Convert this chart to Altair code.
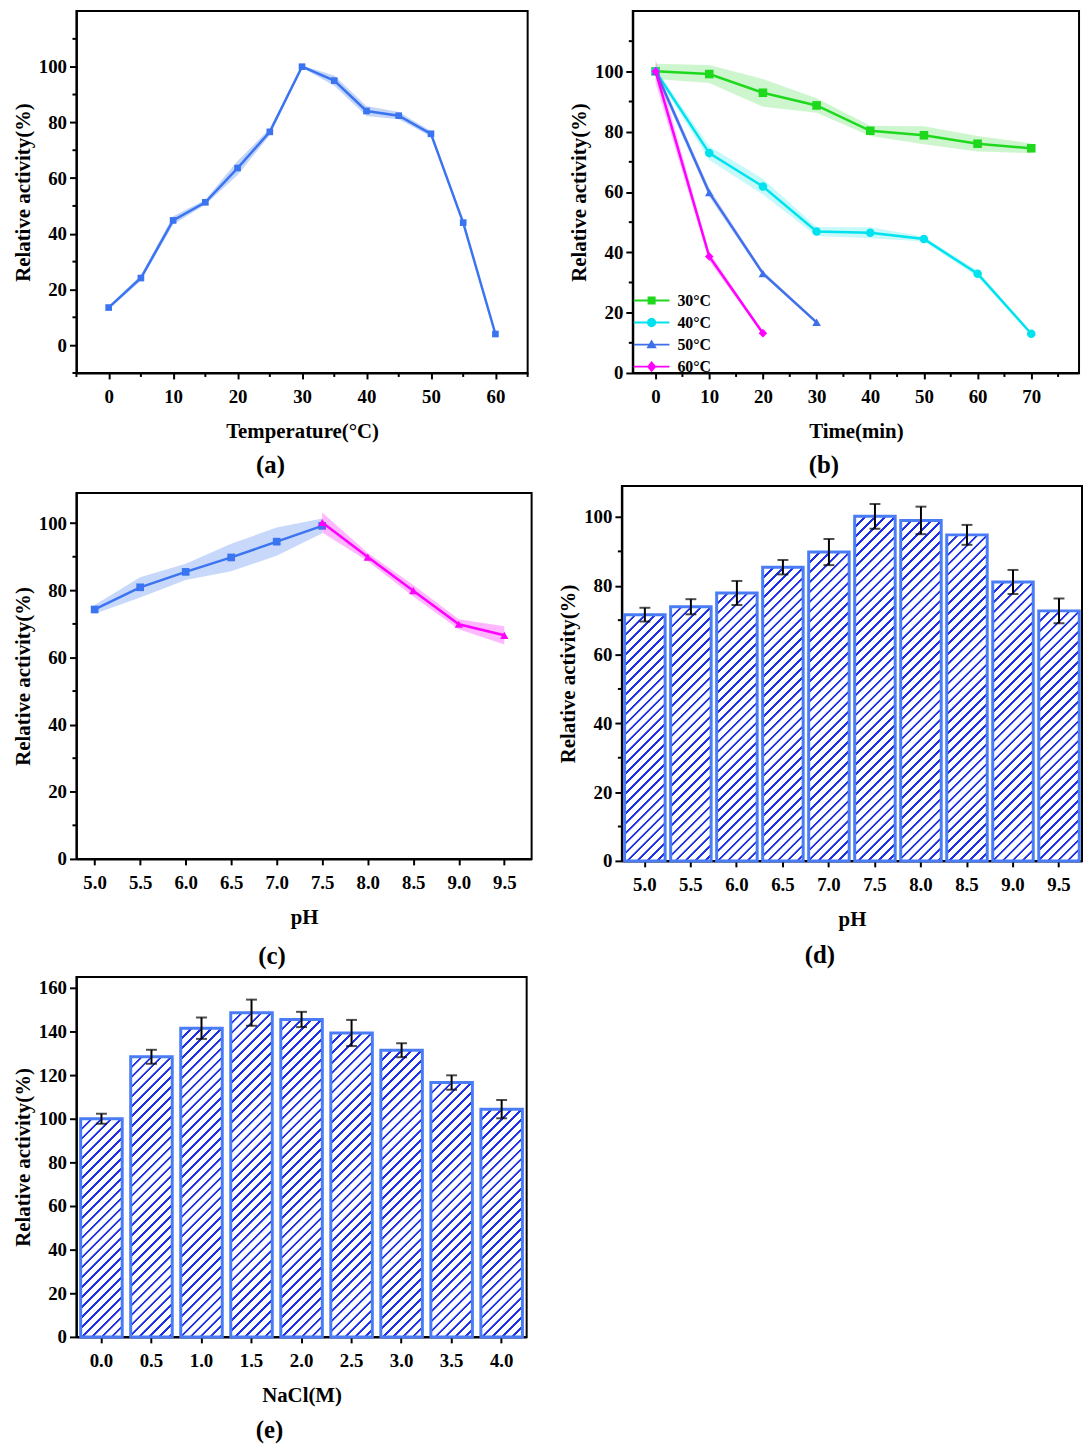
import altair as alt
import pandas as pd

SERIF = "Liberation Serif"
BLUE = "#3A74F0"
GREEN = "#1ED81E"
CYAN = "#00E3EE"
BLUE50 = "#3F6FEA"
MAGENTA = "#FF00FF"
BAR_EDGE = "#4A7CF6"
HATCH = "#1E30E6"
YTITLE = "Relative activity(%)"

# ---------------- data ----------------
# (a) temperature optimum
temp_c = [0, 5, 10, 15, 20, 25, 30, 35, 40, 45, 50, 55, 60]
temp_act = [13.5, 24.1, 44.8, 51.3, 63.6, 76.6, 100.0, 95.0, 84.1, 82.4, 75.9, 44.0, 4.0]
temp_err = [0.6, 1.0, 1.5, 0.9, 2.5, 1.2, 0.4, 1.8, 1.8, 1.3, 1.0, 0.6, 0.5]

# (b) thermal stability
time_series = ["30°C", "40°C", "50°C", "60°C"]
t30_x = [0, 10, 20, 30, 40, 50, 60, 70]
t30_y = [100.0, 99.1, 92.9, 88.7, 80.3, 78.8, 76.0, 74.5]
t30_e = [2.5, 3.0, 4.6, 2.4, 1.7, 3.0, 2.6, 1.6]
t40_x = [0, 10, 20, 30, 40, 50, 60, 70]
t40_y = [100.0, 72.9, 61.8, 46.9, 46.5, 44.4, 32.9, 13.0]
t40_e = [1.0, 2.3, 2.6, 1.5, 1.8, 0.8, 1.0, 0.5]
t50_x = [0, 10, 20, 30]
t50_y = [100.0, 59.8, 33.0, 16.8]
t50_e = [1.5, 1.5, 0.8, 0.5]
t60_x = [0, 10, 20]
t60_y = [100.0, 38.6, 13.2]
t60_e = [4.0, 1.5, 0.5]

# (c) pH optimum
ph_acid_x = [5.0, 5.5, 6.0, 6.5, 7.0, 7.5]
ph_acid_y = [74.3, 80.9, 85.5, 89.8, 94.5, 99.2]
ph_acid_e = [1.3, 3.0, 2.4, 4.1, 4.2, 2.2]
ph_alk_x = [7.5, 8.0, 8.5, 9.0, 9.5]
ph_alk_y = [100.2, 89.9, 79.9, 69.9, 66.6]
ph_alk_e = [3.0, 1.2, 1.7, 1.5, 2.7]

# (d) pH stability
phs_labels = ["5.0", "5.5", "6.0", "6.5", "7.0", "7.5", "8.0", "8.5", "9.0", "9.5"]
phs_vals = [71.6, 73.9, 77.9, 85.4, 89.8, 100.2, 99.0, 94.8, 81.1, 72.7]
phs_err = [2.0, 2.2, 3.5, 2.1, 3.8, 3.6, 4.0, 2.9, 3.5, 3.6]

# (e) NaCl
nacl_labels = ["0.0", "0.5", "1.0", "1.5", "2.0", "2.5", "3.0", "3.5", "4.0"]
nacl_vals = [100.0, 128.4, 141.5, 148.6, 145.5, 139.3, 131.4, 116.6, 104.4]
nacl_err = [2.3, 3.2, 4.9, 6.0, 3.5, 6.0, 3.2, 3.3, 4.2]


# ---------------- helpers ----------------
def band_df(xs, ys, es, series=None):
    d = pd.DataFrame({"x": xs, "v": ys, "e": es})
    d["lo"] = d["v"] - d["e"]
    d["hi"] = d["v"] + d["e"]
    if series is not None:
        d["s"] = series
    return d


def x_axis(values, title, fmt=None):
    kw = dict(title=title, tickSize=6, labelPadding=9, titlePadding=14, labelAngle=0)
    if values is not None:
        kw["values"] = values
    if fmt:
        kw["format"] = fmt
    return alt.Axis(**kw)


def y_axis(values):
    return alt.Axis(values=values, title=YTITLE, tickSize=7, labelPadding=3,
                    titlePadding=5)


def y_minor(vals, ys, yax):
    return alt.Chart(pd.DataFrame({"m": vals})).mark_rule(
        color="black", strokeWidth=2).encode(
        y=alt.Y("m:Q", scale=ys, axis=yax), x=alt.value(-4), x2=alt.value(0))


def x_minor(vals, xs, xax, h):
    return alt.Chart(pd.DataFrame({"m": vals})).mark_rule(
        color="black", strokeWidth=2).encode(
        x=alt.X("m:Q", scale=xs, axis=xax), y=alt.value(h), y2=alt.value(h + 4))


def panel_title(t, offset):
    return alt.TitleParams(t, orient="bottom", frame="bounds", anchor="middle",
                           font=SERIF, fontSize=25, fontWeight="bold",
                           color="black", offset=offset)


def line_series(df, xs, ys, xax, yax, color, shape, size, band_opacity):
    base = alt.Chart(df)
    X = alt.X("x:Q", scale=xs, axis=xax)
    return [
        base.mark_area(color=color, opacity=band_opacity).encode(
            x=X, y=alt.Y("lo:Q", scale=ys, axis=yax), y2="hi:Q"),
        base.mark_line(color=color, strokeWidth=2.5).encode(
            x=X, y=alt.Y("v:Q", scale=ys, axis=yax)),
        base.mark_point(shape=shape, filled=True, size=size, color=color,
                        opacity=1).encode(x=X, y=alt.Y("v:Q", scale=ys, axis=yax)),
    ]


def hatch_expr(bar_w, px_per_unit):
    # diagonal hatch drawn as a striped linear gradient (style only)
    n, period, frac, soft = 44, 10.0, 0.24, 0.04
    L = n * period
    stops = []
    for i in range(n):
        a = i / n
        b = (i + frac) / n
        b2 = (i + frac + soft) / n
        c = (i + 1 - soft) / n
        stops += [f"{{offset:{a:.5f},color:'{HATCH}'}}",
                  f"{{offset:{b:.5f},color:'{HATCH}'}}",
                  f"{{offset:{b2:.5f},color:'white'}}",
                  f"{{offset:{c:.5f},color:'white'}}"]
    h = f"(datum.v*{px_per_unit:.5f})"
    den = f"({bar_w:.4f}*{bar_w:.4f}+{h}*{h})"
    return ("{gradient:'linear',x1:0,y1:0,"
            f"x2:{bar_w:.4f}*{L}/{den},y2:{h}*{L}/{den},"
            "stops:[" + ",".join(stops) + "]}")


# ---------------- panel (a) ----------------
WA, HA = 455, 365
xs_a = alt.Scale(domain=[-5, 65], nice=False, zero=False)
ys_a = alt.Scale(domain=[-10, 120], nice=False, zero=False)
xax_a = x_axis(list(range(0, 61, 10)), "Temperature(°C)")
yax_a = y_axis(list(range(0, 101, 20)))
dfa = band_df(temp_c, temp_act, temp_err)
pa = alt.layer(
    *line_series(dfa, xs_a, ys_a, xax_a, yax_a, BLUE, "square", 45, 0.3),
    x_minor(list(range(-5, 66, 10)), xs_a, xax_a, HA),
    y_minor([-10, 10, 30, 50, 70, 90, 110], ys_a, yax_a),
).properties(width=WA, height=HA, title=panel_title("(a)", 12))

# ---------------- panel (b) ----------------
WB, HB = 450, 365
xs_b = alt.Scale(domain=[-4.25, 78.9], nice=False, zero=False)
ys_b = alt.Scale(domain=[0, 120], nice=False, zero=False)
xax_b = x_axis(list(range(0, 71, 10)), "Time(min)")
yax_b = y_axis(list(range(0, 101, 20)))
colors_b = [GREEN, CYAN, BLUE50, MAGENTA]
shapes_b = ["square", "circle", "triangle-up", "diamond"]
dfs_b = [
    band_df(t30_x, t30_y, t30_e, time_series[0]),
    band_df(t40_x, t40_y, t40_e, time_series[1]),
    band_df(t50_x, t50_y, t50_e, time_series[2]),
    band_df(t60_x, t60_y, t60_e, time_series[3]),
]
layers_b = []
for dfi, col, shp in zip(dfs_b, colors_b, shapes_b):
    layers_b += line_series(dfi, xs_b, ys_b, xax_b, yax_b, col, shp, 75, 0.22)

LINE = "M-2,-0.11H2V0.11H-2Z"
leg_paths = [
    LINE + "M-0.45,-0.45H0.45V0.45H-0.45Z",
    LINE + "M0.52,0A0.52,0.52 0 1,1 -0.52,0A0.52,0.52 0 1,1 0.52,0Z",
    LINE + "M0,-0.58L0.58,0.42L-0.58,0.42Z",
    LINE + "M0,-0.62L0.52,0L0,0.62L-0.52,0Z",
]
leg_kw = dict(orient="none", legendX=571, legendY=283, title=None, padding=0,
              symbolSize=324, symbolStrokeWidth=0, labelOffset=17, rowPadding=5.2,
              labelFont=SERIF, labelFontSize=16, labelFontWeight="bold",
              labelColor="black", symbolOpacity=1)
df_leg = pd.concat(dfs_b, ignore_index=True)
layers_b.append(
    alt.Chart(df_leg).mark_point(filled=True, size=0).encode(
        x=alt.X("x:Q", scale=xs_b, axis=xax_b),
        y=alt.Y("v:Q", scale=ys_b, axis=yax_b),
        color=alt.Color("s:N", scale=alt.Scale(domain=time_series, range=colors_b),
                        legend=alt.Legend(**leg_kw)),
        shape=alt.Shape("s:N", scale=alt.Scale(domain=time_series, range=leg_paths),
                        legend=alt.Legend(**leg_kw))))
layers_b.append(x_minor(list(range(5, 76, 10)), xs_b, xax_b, HB))
layers_b.append(y_minor(list(range(10, 111, 20)), ys_b, yax_b))
pb = alt.layer(*layers_b).properties(width=WB, height=HB, title=panel_title("(b)", 12))

# ---------------- panel (c) ----------------
WC, HC = 459, 369
xs_c = alt.Scale(domain=[4.8, 9.8], nice=False, zero=False)
ys_c = alt.Scale(domain=[0, 109], nice=False, zero=False)
xax_c = x_axis([5.0, 5.5, 6.0, 6.5, 7.0, 7.5, 8.0, 8.5, 9.0, 9.5], "pH", ".1f")
yax_c = y_axis(list(range(0, 101, 20)))
pc = alt.layer(
    *line_series(band_df(ph_acid_x, ph_acid_y, ph_acid_e), xs_c, ys_c, xax_c, yax_c,
                 BLUE, "square", 60, 0.28),
    *line_series(band_df(ph_alk_x, ph_alk_y, ph_alk_e), xs_c, ys_c, xax_c, yax_c,
                 MAGENTA, "triangle-up", 70, 0.28),
    y_minor([10, 30, 50, 70, 90], ys_c, yax_c),
).properties(width=WC, height=HC, title=panel_title("(c)", 17))

spacer = alt.Chart(pd.DataFrame({"z": [0]})).mark_point(opacity=0).properties(
    width=10, height=5, view=alt.ViewBackground(stroke="transparent"))


# ---------------- bar panels ----------------
def bar_panel(labels, vals, errs, w, h, ymax, yvals, minor, pad, xtitle, letter, toff):
    d = pd.DataFrame({"c": labels, "v": vals, "e": errs})
    d["lo"] = d["v"] - d["e"]
    d["hi"] = d["v"] + d["e"]
    n = len(labels)
    step = w / n
    bw = step * (1 - pad)
    ys = alt.Scale(domain=[0, ymax], nice=False, zero=False)
    yax = y_axis(yvals)
    xsc = alt.Scale(paddingInner=pad, paddingOuter=pad / 2)
    xax = x_axis(None, xtitle)
    base = alt.Chart(d)
    X = alt.X("c:N", sort=labels, scale=xsc, axis=xax)
    layers = [
        base.mark_bar(fill={"expr": hatch_expr(bw, h / ymax)}, stroke=BAR_EDGE,
                      strokeWidth=3).encode(x=X, y=alt.Y("v:Q", scale=ys, axis=yax)),
        base.mark_rule(color="black", strokeWidth=2).encode(
            x=X, y=alt.Y("lo:Q", scale=ys, axis=yax), y2="hi:Q"),
        base.mark_tick(color="black", thickness=2, size=11).encode(
            x=X, y=alt.Y("lo:Q", scale=ys, axis=yax)),
        base.mark_tick(color="black", thickness=2, size=11).encode(
            x=X, y=alt.Y("hi:Q", scale=ys, axis=yax)),
    ]
    if minor:
        layers.append(y_minor(minor, ys, yax))
    return alt.layer(*layers).properties(width=w, height=h,
                                         title=panel_title(letter, toff))


pd_ = bar_panel(phs_labels, phs_vals, phs_err, 464, 378, 109,
                list(range(0, 101, 20)), [10, 30, 50, 70, 90], 0.12, "pH", "(d)", 14)
pe = bar_panel(nacl_labels, nacl_vals, nacl_err, 454, 363, 165,
               list(range(0, 161, 20)), None, 0.17, "NaCl(M)", "(e)", 13)

row1 = alt.hconcat(pa, pb, spacing=38)
row2 = alt.hconcat(alt.vconcat(spacer, pc, spacing=0), pd_, spacing=24)

chart = alt.vconcat(row1, row2, pe, spacing=6).properties(
    padding={"left": 3, "top": -4, "right": 0, "bottom": 0}
).configure_axis(
    labelFont=SERIF, labelFontSize=19, labelFontWeight="bold", labelColor="black",
    titleFont=SERIF, titleFontSize=21, titleFontWeight="bold", titleColor="black",
    domainColor="black", domainWidth=2, tickColor="black", tickWidth=2, grid=False,
).configure_view(stroke="black", strokeWidth=2).configure_concat(spacing=10)

chart.save("out.html", embed_options={"renderer": "svg", "actions": False})
